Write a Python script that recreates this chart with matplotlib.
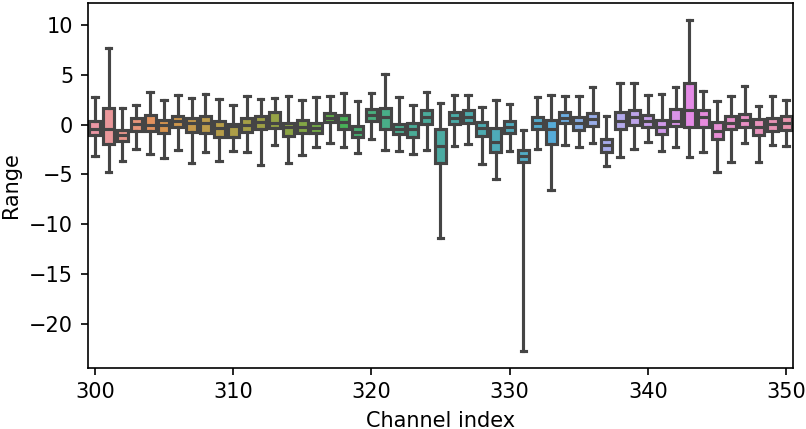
import colorsys
import numpy as np
import matplotlib
matplotlib.use("Agg")
import matplotlib.pyplot as plt
import seaborn as sns

# Box statistics, one entry per channel 300..350
channels = list(range(300, 351))
whis_hi = [2.73, 7.67, 1.67, 1.97, 3.3, 2.47, 2.97, 2.67, 3.1, 2.57,
           2.0, 2.83, 2.57, 2.67, 2.83, 2.5, 2.77, 2.9, 3.17, 2.4,
           3.17, 5.1, 2.8, 1.93, 3.3, 2.13, 2.97, 3.0, 1.73, 2.5,
           2.03, -0.5, 2.77, 2.93, 2.87, 2.87, 3.73, 0.83, 4.13, 4.17,
           2.93, 3.07, 3.8, 10.53, 3.4, 2.37, 2.87, 3.9, 1.87, 2.87,
           2.47]
q3 = [0.4, 1.67, -0.53, 0.63, 0.97, 0.5, 0.83, 0.67, 0.9, 0.33,
      0.1, 0.67, 0.83, 1.3, 0.17, 0.47, 0.17, 1.2, 0.93, -0.13,
      1.6, 1.7, 0.07, 0.13, 1.47, -0.4, 1.23, 1.5, 0.27, -0.37,
      0.4, -2.57, 0.73, 0.47, 1.3, 0.73, 1.17, -1.43, 1.23, 1.43,
      0.97, 0.47, 1.57, 4.17, 1.5, 0.23, 0.83, 1.07, 0.57, 0.63,
      0.83]
medians = [-0.4, -0.47, -1.03, 0.03, 0.0, -0.07, 0.33, 0.2, 0.17, -0.37,
           -0.1, 0.0, 0.27, 0.2, -0.2, -0.23, -0.3, 0.67, 0.23, -0.7,
           0.97, 0.8, -0.43, -0.43, 0.8, -2.13, 0.67, 0.8, -0.3, -1.77,
           -0.23, -3.2, 0.17, -0.43, 0.67, 0.13, 0.53, -2.1, 0.4, 0.73,
           0.33, -0.2, 0.33, 1.5, 0.77, -0.63, 0.2, 0.47, -0.2, 0.03,
           0.13]
q1 = [-1.0, -1.93, -1.7, -0.67, -0.6, -0.8, -0.23, -0.77, -0.8, -1.2,
      -1.2, -0.7, -0.43, -0.3, -1.17, -0.87, -0.83, 0.3, -0.4, -1.27,
      0.4, -0.4, -0.93, -1.23, 0.07, -3.9, 0.03, 0.2, -1.1, -2.77,
      -0.87, -3.8, -0.43, -1.93, 0.13, -0.53, -0.13, -2.77, -0.4, -0.07,
      -0.2, -0.9, -0.17, -0.2, -0.2, -1.43, -0.47, -0.27, -1.0, -0.6,
      -0.53]
whis_lo = [-3.2, -4.8, -3.67, -2.47, -3.0, -3.37, -2.57, -3.87, -2.77, -3.67,
           -2.7, -2.77, -4.07, -2.03, -3.83, -3.03, -2.3, -1.83, -2.3, -2.9,
           -1.4, -2.57, -2.7, -3.0, -2.6, -11.37, -2.13, -1.97, -3.97, -5.47,
           -2.67, -22.7, -2.5, -6.6, -2.07, -2.3, -1.83, -4.13, -3.23, -2.47,
           -1.8, -2.67, -2.3, -3.23, -2.77, -4.8, -3.73, -1.87, -3.8, -2.07,
           -2.2]

# seaborn-like colours: husl palette, desaturated
pal = sns.husl_palette(len(channels), l=.7)
colors = [sns.desaturate(c, .75) for c in pal]
lum = min(colorsys.rgb_to_hls(*c)[1] for c in colors) * .6
gray = (lum, lum, lum)

stats = []
for i in range(len(channels)):
    stats.append({"whislo": whis_lo[i], "q1": q1[i], "med": medians[i],
                  "q3": q3[i], "whishi": whis_hi[i], "fliers": []})

fig, ax = plt.subplots(figsize=(806 / 150, 429 / 150), dpi=150)
fig.subplots_adjust(left=0.109, right=0.984, top=0.993, bottom=0.143)

lw = 1.5
bp = ax.bxp(stats, positions=channels, widths=0.8, patch_artist=True,
            showfliers=False,
            boxprops=dict(edgecolor=gray, linewidth=lw),
            medianprops=dict(color=gray, linewidth=lw),
            whiskerprops=dict(color=gray, linewidth=lw),
            capprops=dict(color=gray, linewidth=lw))
for patch, c in zip(bp["boxes"], colors):
    patch.set_facecolor(c)

ax.set_xlim(299.5, 350.5)
ax.set_xticks(np.arange(300, 351, 10))
ax.set_xticklabels([str(t) for t in range(300, 351, 10)])
ax.set_ylim(-24.4, 12.2)
ax.set_xlabel("Channel index")
ax.set_ylabel("Range")

fig.savefig("out.png", dpi=150)
